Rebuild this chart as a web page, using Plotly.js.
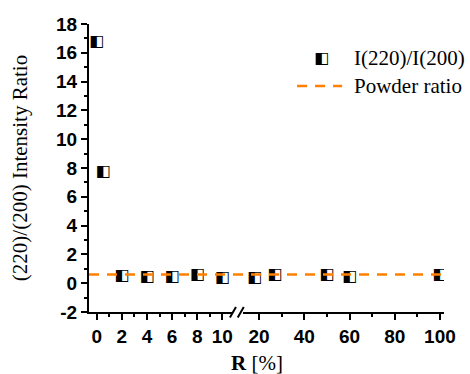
<!DOCTYPE html>
<html>
<head>
<meta charset="utf-8">
<script src="https://cdn.plot.ly/plotly-3.0.1.min.js"></script>
<style>html,body{margin:0;padding:0;background:#fff;}#chart{width:470px;height:374px;}</style>
</head>
<body>
<div id="chart"></div>
<script>
// Data
const rPercent = [0, 0.5, 2, 4, 6, 8, 10, 18, 27, 50, 60, 100];
const intensityRatio = [16.75, 7.75, 0.5, 0.42, 0.44, 0.6, 0.33, 0.37, 0.56, 0.6, 0.44, 0.56];
const powderRatio = 0.6;
const breakAt = 11;
const lowTicks = [0, 2, 4, 6, 8, 10];
const highTicks = [20, 40, 60, 80, 100];
const yTicks = [-2, 0, 2, 4, 6, 8, 10, 12, 14, 16, 18];
const seriesName = 'I(220)/I(200)';
const lineName = 'Powder ratio';

const lowX = [], lowY = [], highX = [], highY = [];
rPercent.forEach((r, i) => {
  if (r < breakAt) { lowX.push(r); lowY.push(intensityRatio[i]); }
  else { highX.push(r); highY.push(intensityRatio[i]); }
});

const markerGlyph = '\u25E7';
const glyphFont = {family: 'DejaVu Sans', size: 16, color: '#000'};
const tickFont = {family: 'Liberation Sans, Arial, sans-serif', size: 19, color: '#000', weight: 'bold'};
const serifFont = {family: 'Liberation Serif, Times New Roman, serif', size: 21, color: '#000'};

const traces = [
  {x: lowX, y: lowY, xaxis: 'x', yaxis: 'y', mode: 'text', text: lowX.map(() => markerGlyph),
   textposition: 'middle center', textfont: glyphFont, showlegend: false, hoverinfo: 'x+y'},
  {x: highX, y: highY, xaxis: 'x2', yaxis: 'y', mode: 'text', text: highX.map(() => markerGlyph),
   textposition: 'middle center', textfont: glyphFont, showlegend: false, hoverinfo: 'x+y'}
];

const axisCommon = {
  showline: true, linecolor: '#000', linewidth: 2,
  ticks: 'outside', ticklen: 6, tickwidth: 2, tickcolor: '#000',
  showgrid: false, zeroline: false, tickfont: tickFont, fixedrange: true
};

const layout = {
  width: 470, height: 374,
  margin: {l: 89, r: 26, t: 24, b: 62},
  paper_bgcolor: '#fff', plot_bgcolor: '#fff',
  showlegend: false,
  xaxis: Object.assign({}, axisCommon, {
    domain: [0, 0.404], range: [-0.61, 10.8], anchor: 'y',
    tickmode: 'array', tickvals: lowTicks, ticktext: lowTicks.map(String),
    minor: {dtick: 1, tick0: 0, ticklen: 3, tickwidth: 2, tickcolor: '#000', ticks: 'outside'}
  }),
  xaxis2: Object.assign({}, axisCommon, {
    domain: [0.434, 1], range: [12.9, 101.8], anchor: 'y',
    tickmode: 'array', tickvals: highTicks, ticktext: highTicks.map(String),
    minor: {dtick: 10, tick0: 0, ticklen: 3, tickwidth: 2, tickcolor: '#000', ticks: 'outside'}
  }),
  yaxis: Object.assign({}, axisCommon, {
    range: [-2, 18], anchor: 'x',
    tickmode: 'array', tickvals: yTicks, ticktext: yTicks.map(String),
    minor: {dtick: 1, tick0: 0, ticklen: 3, tickwidth: 2, tickcolor: '#000', ticks: 'outside'}
  }),
  shapes: [
    {type: 'line', xref: 'paper', yref: 'y', x0: 0, x1: 1, y0: powderRatio, y1: powderRatio,
     line: {color: '#FF8000', width: 2.5, dash: '10px,8px'}},
    // axis break marks
    {type: 'line', xref: 'paper', yref: 'paper', x0: 0.397, x1: 0.414, y0: -0.019, y1: 0.017,
     line: {color: '#000', width: 2}},
    {type: 'line', xref: 'paper', yref: 'paper', x0: 0.419, x1: 0.436, y0: -0.019, y1: 0.017,
     line: {color: '#000', width: 2}},
    // legend sample line
    {type: 'line', xref: 'paper', yref: 'paper', x0: 0.586, x1: 0.713, y0: 0.785, y1: 0.785,
     line: {color: '#FF8000', width: 2.5, dash: '10px,8px'}}
  ],
  annotations: [
    {xref: 'paper', yref: 'paper', x: -0.194, y: 0.5, text: '(220)/(200) Intensity Ratio',
     textangle: -90, showarrow: false, font: serifFont, xanchor: 'center', yanchor: 'middle'},
    {xref: 'paper', yref: 'paper', x: 0.473, y: -0.177, text: '<b>R</b> [%]',
     showarrow: false, font: serifFont, xanchor: 'center', yanchor: 'middle'},
    // legend
    {xref: 'paper', yref: 'paper', x: 0.656, y: 0.882, text: markerGlyph,
     showarrow: false, font: glyphFont, xanchor: 'center', yanchor: 'middle'},
    {xref: 'paper', yref: 'paper', x: 0.741, y: 0.882, text: seriesName,
     showarrow: false, font: serifFont, xanchor: 'left', yanchor: 'middle'},
    {xref: 'paper', yref: 'paper', x: 0.741, y: 0.785, text: lineName,
     showarrow: false, font: serifFont, xanchor: 'left', yanchor: 'middle'}
  ]
};

Plotly.newPlot('chart', traces, layout, {staticPlot: true, displayModeBar: false});
</script>
</body>
</html>
